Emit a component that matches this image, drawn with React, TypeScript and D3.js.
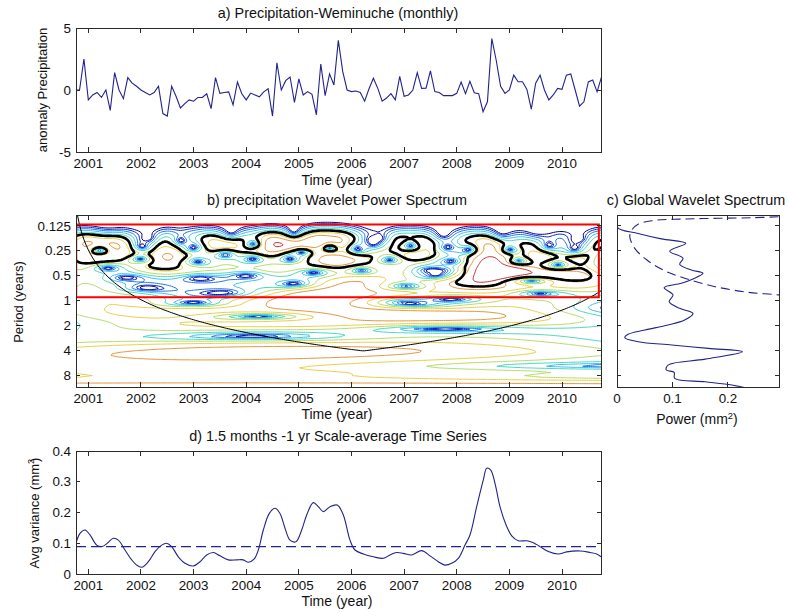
import React, { useMemo } from 'react';
import * as d3 from 'd3';

const W = 788;
const H = 612;
const FONT = '"Liberation Sans", Arial, Helvetica, sans-serif';
const LINE = '#23238c';
const INK = '#111111';
const FRAME = '#2a2a2a';
const FS_TITLE = 14.4;
const FS_XLABEL = 14;
const FS_YLABEL = 13;
const FS_TICK = 13.4;

// ---- data -------------------------------------------------------------
const precipStart = 2000.75; // Oct 2000
const precipStep = 1 / 12; // monthly
const precipAnomaly = [
  0, 0, 2.5, -0.8, -0.4, -0.2, -0.6, 0, -1.65, 1.4, 0, -0.7,
  1.0, 0.55, 0.3, 0, -0.2, -0.4, -0.2, 0.3, -1.9, -2.1, 0.3, -0.5,
  -1.45, -1.1, -0.8, -0.9, -0.6, -0.6, -0.3, -1.5, 1.0, -0.27, -0.2, -0.15,
  -1.2, 0.65, -0.3, -0.8, -0.25, -0.4, -0.55, -0.15, 0.1, -2.1, 2.2, 0,
  0.75, 1.05, -1.0, 0.9, -0.4, -0.13, -0.35, -2.0, 2.1, -0.45, 1.3, 0.4,
  4.0, 1.5, 0, -0.13, -0.08, -0.2, -0.9, 0.1, 0.95, 0.13, -0.9, -0.65,
  -0.3, -0.8, 1.1, -0.5, -0.4, 0, 1.4, 0.13, 0.15, 1.55, -0.13, -0.2,
  -0.45, -0.45, -0.45, -0.27, 0.65, -0.3, 0.7, -0.22, -0.3, -1.75, -0.95, 4.15,
  2.4, 0.3, -0.27, 0, 1.2, 0.67, 0.67, 0.05, -1.55, 0.55, 1.2, 0,
  -0.8, -0.4, 0.13, 0.05, 1.2, 1.3, 0, -1.3, -0.95, 0.65, 0.8, -0.15,
  1.05, -0.3,
];

const timeDomain = [2000.766, 2010.741];
const yearTicks = [2001, 2002, 2003, 2004, 2005, 2006, 2007, 2008, 2009, 2010];
const anomalyTicks = [-5, 0, 5];
const periodTicks = [0.125, 0.25, 0.5, 1, 2, 4, 8];
const periodTickLabels = ['0.125', '0.25', '0.5', '1', '2', '4', '8'];
const periodDomainLog2 = [-3.44, 3.47];
const powerTicks = [0, 0.1, 0.2];
const powerTickLabels = ['0', '0.1', '0.2'];
const powerDomain = [0, 0.292];
const varianceTicks = [0, 0.1, 0.2, 0.3, 0.4];
const varianceTickLabels = ['0', '0.1', '0.2', '0.3', '0.4'];

// global wavelet spectrum (panel c)
const globalPeriods = [
  0.095, 0.131, 0.154, 0.179, 0.203, 0.252, 0.308, 0.364, 0.426, 0.467, 0.547, 0.616,
  0.697, 0.853, 1.028, 1.24, 1.424, 1.717, 1.972, 2.266, 2.549, 2.809, 3.138, 3.434,
  3.784, 4.141, 5.098, 6.021, 6.916, 7.362, 8.694, 9.58, 10.48, 11.31,
];
const globalPower = [
  0, 0.001, 0.038, 0.08, 0.124, 0.095, 0.119, 0.113, 0.134, 0.155, 0.137, 0.116,
  0.085, 0.101, 0.094, 0.113, 0.137, 0.122, 0.092, 0.05, 0.02, 0.014, 0.038, 0.099,
  0.165, 0.226, 0.159, 0.092, 0.089, 0.103, 0.104, 0.159, 0.207, 0.231,
];
const globalSigPeriods = [
  0.0968, 0.0995, 0.101, 0.103, 0.108, 0.119, 0.136, 0.168, 0.233, 0.323, 0.426, 0.536,
  0.678, 0.795, 0.853, 0.95,
];
const globalSigPower = [
  0.291, 0.243, 0.183, 0.122, 0.0625, 0.038, 0.028, 0.023, 0.032, 0.054, 0.083, 0.122,
  0.177, 0.237, 0.291, 0.33,
];

// scale-averaged variance (panel d)
const scaleAvgYears = [
  2000.766, 2000.842, 2000.937, 2001.032, 2001.159, 2001.254, 2001.349, 2001.475, 2001.57, 2001.697,
  2001.824, 2001.919, 2002.014, 2002.14, 2002.267, 2002.394, 2002.489, 2002.584, 2002.71, 2002.837,
  2002.995, 2003.122, 2003.249, 2003.375, 2003.502, 2003.66, 2003.819, 2003.945, 2004.04, 2004.148,
  2004.23, 2004.325, 2004.439, 2004.547, 2004.642, 2004.737, 2004.832, 2004.946, 2005.054, 2005.149,
  2005.275, 2005.37, 2005.465, 2005.592, 2005.731, 2005.845, 2005.972, 2006.067, 2006.225, 2006.415,
  2006.605, 2006.732, 2006.859, 2006.985, 2007.144, 2007.334, 2007.492, 2007.65, 2007.777, 2007.905,
  2008.03, 2008.157, 2008.252, 2008.379, 2008.505, 2008.57, 2008.646, 2008.727, 2008.822, 2008.936,
  2009.045, 2009.17, 2009.33, 2009.455, 2009.582, 2009.74, 2009.93, 2010.09, 2010.342, 2010.532,
  2010.659, 2010.741,
];
const scaleAvgValues = [
  0.1, 0.132, 0.143, 0.127, 0.094, 0.089, 0.098, 0.116, 0.11, 0.078,
  0.046, 0.029, 0.022, 0.04, 0.073, 0.094, 0.1, 0.089, 0.056, 0.035,
  0.026, 0.04, 0.062, 0.07, 0.059, 0.046, 0.046, 0.046, 0.038, 0.048,
  0.078, 0.143, 0.197, 0.214, 0.197, 0.149, 0.11, 0.105, 0.143, 0.192,
  0.232, 0.219, 0.203, 0.219, 0.224, 0.192, 0.11, 0.078, 0.065, 0.056,
  0.051, 0.062, 0.07, 0.067, 0.062, 0.076, 0.059, 0.04, 0.029, 0.035,
  0.051, 0.094, 0.127, 0.219, 0.306, 0.344, 0.338, 0.295, 0.219, 0.16,
  0.124, 0.108, 0.108, 0.102, 0.089, 0.073, 0.065, 0.072, 0.075, 0.07,
  0.065, 0.056,
];
const scaleAvgSignif = 0.089;

const bandPeriods = [0.12, 0.91];
const bandYears = [2000.77, 2010.7];
const coiRange = [2000.75, 2011.7];
const contourLevels = [0.0625, 0.125, 0.25, 0.5, 1, 2, 4, 8, 16];
const contourColors = [
  '#00008f', '#0a2fc4', '#1f78e6', '#3cc0f0', '#48d8c0',
  '#b4dc68', '#e8cf48', '#e4943c', '#c8343a',
];
const powerGain = 4; // contoured power expressed relative to the series' reference variance
const redNoiseLag1 = 0.72; // lag-1 autocorrelation used for the red-noise background

// ---- layout -------------------------------------------------------------
const PA = { x0: 76, x1: 601, y0: 28, y1: 152 };
const PB = { x0: 76, x1: 601, y0: 215, y1: 387 };
const PC = { x0: 617, x1: 779, y0: 215, y1: 387 };
const PD = { x0: 76, x1: 601, y0: 451, y1: 574 };

const xTime = (p: any) => d3.scaleLinear().domain(timeDomain).range([p.x0, p.x1]);
const xA = xTime(PA);
const xB = xTime(PB);
const xD = xTime(PD);
const yA = d3.scaleLinear().domain([-5, 5]).range([PA.y1, PA.y0]);
const yB = d3.scaleLinear().domain(periodDomainLog2).range([PB.y0, PB.y1]);
const xC = d3.scaleLinear().domain(powerDomain).range([PC.x0, PC.x1]);
const yD = d3.scaleLinear().domain([0, 0.4]).range([PD.y1, PD.y0]);

// ---- Morlet wavelet power of the panel-a series (FFT method, Torrence & Compo) ----
function buildWavelet() {
  const n = precipAnomaly.length;
  const mean = d3.mean(precipAnomaly) as number;
  const variance = d3.mean(precipAnomaly, (v) => (v - mean) * (v - mean)) as number;
  const sd = Math.sqrt(variance);
  const x = precipAnomaly.map((v) => (v - mean) / sd);
  const alpha = redNoiseLag1;
  const dt = precipStep;
  const N = 256;
  const sub = 2;
  const M = N * sub;
  const cosT = new Float64Array(M);
  const sinT = new Float64Array(M);
  for (let i = 0; i < M; i++) {
    cosT[i] = Math.cos((2 * Math.PI * i) / M);
    sinT[i] = Math.sin((2 * Math.PI * i) / M);
  }
  const half = N / 2;
  const Xr = new Float64Array(half + 1);
  const Xi = new Float64Array(half + 1);
  for (let k = 1; k <= half; k++) {
    let re = 0;
    let im = 0;
    for (let t = 0; t < n; t++) {
      const idx = (k * t * sub) % M;
      re += x[t] * cosT[idx];
      im -= x[t] * sinT[idx];
    }
    Xr[k] = re;
    Xi[k] = im;
  }
  const nT = (n - 1) * sub + 1;
  const lpMin = -3.8;
  const lpMax = 3.8;
  const dj = 1 / 16;
  const nS = Math.round((lpMax - lpMin) / dj) + 1;
  const logPow = new Array(nT * nS);
  const sig = new Array(nT * nS);
  const fourier = (4 * Math.PI) / (6 + Math.sqrt(2 + 36));
  const cr = new Float64Array(half + 1);
  const ci = new Float64Array(half + 1);
  for (let j = 0; j < nS; j++) {
    const lp = lpMin + j * dj;
    const period = Math.pow(2, lp);
    const s = period / fourier;
    const norm = Math.sqrt((2 * Math.PI * s) / dt) * Math.pow(Math.PI, -0.25);
    let kLo = half + 1;
    let kHi = 0;
    for (let k = 1; k <= half; k++) {
      const w = (2 * Math.PI * k) / (N * dt);
      const d = norm * Math.exp(-((s * w - 6) * (s * w - 6)) / 2);
      cr[k] = Xr[k] * d;
      ci[k] = Xi[k] * d;
      if (d > 1e-7) {
        if (k < kLo) kLo = k;
        kHi = k;
      }
    }
    const pk = (1 - alpha * alpha) / (1 + alpha * alpha - 2 * alpha * Math.cos((2 * Math.PI * dt) / period));
    const sigLevel = pk * 2.9957;
    for (let m = 0; m < nT; m++) {
      let re = 0;
      let im = 0;
      for (let k = kLo; k <= kHi; k++) {
        const idx = (k * m) % M;
        const c = cosT[idx];
        const sn = sinT[idx];
        re += cr[k] * c - ci[k] * sn;
        im += cr[k] * sn + ci[k] * c;
      }
      const raw = (re * re + im * im) / (N * N);
      logPow[j * nT + m] = Math.log2(Math.max(raw * powerGain, 1e-10));
      sig[j * nT + m] = raw / sigLevel;
    }
  }
  const gridT = (g: number) => precipStart + ((g - 0.5) * dt) / sub;
  const gridLp = (g: number) => lpMin + (g - 0.5) * dj;
  const proj = d3.geoTransform({
    point(px: number, py: number) {
      (this as any).stream.point(xB(gridT(px)), yB(gridLp(py)));
    },
  });
  const path = d3.geoPath(proj);
  const levelsLog = contourLevels.map((v) => Math.log2(v));
  const contours = d3.contours().size([nT, nS]).thresholds(levelsLog)(logPow);
  const contourPaths = contours.map((c, i) => ({ d: path(c as any) || '', color: contourColors[i] }));
  const sigC = d3.contours().size([nT, nS]).thresholds([1])(sig);
  const sigPath = path(sigC[0] as any) || '';
  return { contourPaths, sigPath };
}

function buildCoi() {
  const pts: [number, number][] = [];
  const dt = precipStep;
  const [t0, t1] = coiRange;
  const coif = (4 * Math.PI) / (6 + Math.sqrt(38)) / Math.SQRT2;
  for (let t = t0; t <= t1 + 1e-9; t += dt / 2) {
    const c = coif * Math.max(1e-5, Math.min(t - t0 + dt, t1 - t + dt));
    pts.push([xB(t), yB(Math.log2(c))]);
  }
  return d3.line()(pts) || '';
}

// ---- helpers ----------------------------------------------------------------
const txt = { fontFamily: FONT, fill: INK };

function Frame({ p }: any) {
  return (
    <rect x={p.x0} y={p.y0} width={p.x1 - p.x0} height={p.y1 - p.y0} fill="none" stroke={FRAME} strokeWidth={1} shapeRendering="crispEdges" />
  );
}

function XTicks({ p, scale, ticks, labels, labelY, len = 5 }: any) {
  return (
    <g>
      {ticks.map((t: number, i: number) => {
        const x = scale(t);
        return (
          <g key={i}>
            <line x1={x} x2={x} y1={p.y1} y2={p.y1 - len} stroke={FRAME} shapeRendering="crispEdges" />
            <line x1={x} x2={x} y1={p.y0} y2={p.y0 + len} stroke={FRAME} shapeRendering="crispEdges" />
            <text x={x} y={labelY} textAnchor="middle" fontSize={FS_TICK} style={txt as any}>
              {labels ? labels[i] : String(t)}
            </text>
          </g>
        );
      })}
    </g>
  );
}

function YTicks({ p, scale, ticks, labels, len = 4, showLabels = true }: any) {
  return (
    <g>
      {ticks.map((t: number, i: number) => {
        const y = scale(t);
        return (
          <g key={i}>
            <line x1={p.x0} x2={p.x0 + len} y1={y} y2={y} stroke={FRAME} shapeRendering="crispEdges" />
            <line x1={p.x1} x2={p.x1 - len} y1={y} y2={y} stroke={FRAME} shapeRendering="crispEdges" />
            {showLabels && (
              <text x={p.x0 - 5} y={y + 4.6} textAnchor="end" fontSize={FS_TICK} style={txt as any}>
                {labels ? labels[i] : String(t)}
              </text>
            )}
          </g>
        );
      })}
    </g>
  );
}

function Clip({ id, p }: any) {
  return (
    <clipPath id={id}>
      <rect x={p.x0} y={p.y0} width={p.x1 - p.x0} height={p.y1 - p.y0} />
    </clipPath>
  );
}

export default function App() {
  const wave = useMemo(buildWavelet, []);
  const coiPath = useMemo(buildCoi, []);

  const precipPath =
    d3
      .line<number>()
      .x((_, i) => xA(precipStart + i * precipStep))
      .y((v) => yA(v))(precipAnomaly) || '';

  const globalPath =
    d3
      .line<number>()
      .x((v) => xC(v))
      .y((_, i) => yB(Math.log2(globalPeriods[i])))
      .curve(d3.curveCatmullRom.alpha(0.5))(globalPower) || '';

  const globalSigPath =
    d3
      .line<number>()
      .x((v) => xC(v))
      .y((_, i) => yB(Math.log2(globalSigPeriods[i])))
      .curve(d3.curveCatmullRom.alpha(0.5))(globalSigPower) || '';

  const scaleAvgPath =
    d3
      .line<number>()
      .x((_, i) => xD(scaleAvgYears[i]))
      .y((v) => yD(v))
      .curve(d3.curveCatmullRom.alpha(0.5))(scaleAvgValues) || '';

  const periodTickLog = periodTicks.map((p) => Math.log2(p));

  return (
    <div style={{ position: 'absolute', left: 0, top: 0, width: W, height: H, background: '#fff' }}>
      <svg width={W} height={H} viewBox={`0 0 ${W} ${H}`} style={{ display: 'block' }}>
        <defs>
          <Clip id="clipA" p={PA} />
          <Clip id="clipB" p={PB} />
          <Clip id="clipC" p={PC} />
          <Clip id="clipD" p={PD} />
        </defs>
        <rect x={0} y={0} width={W} height={H} fill="#fff" />

        {/* ---- panel a ---- */}
        <text x={338} y={18} textAnchor="middle" fontSize={FS_TITLE} style={txt as any}>
          a) Precipitation-Weminuche (monthly)
        </text>
        <g clipPath="url(#clipA)">
          <path d={precipPath} fill="none" stroke={LINE} strokeWidth={1.1} />
        </g>
        <Frame p={PA} />
        <XTicks p={PA} scale={xA} ticks={yearTicks} labelY={168} />
        <YTicks p={PA} scale={yA} ticks={anomalyTicks} />
        <text x={337} y={185} textAnchor="middle" fontSize={FS_XLABEL} style={txt as any}>
          Time (year)
        </text>
        <text transform="translate(47,90) rotate(-90)" textAnchor="middle" fontSize={FS_YLABEL} style={txt as any}>
          anomaly Precipitation
        </text>

        {/* ---- panel b ---- */}
        <text x={337} y={205} textAnchor="middle" fontSize={FS_TITLE} style={txt as any}>
          b) precipitation Wavelet Power Spectrum
        </text>
        <g clipPath="url(#clipB)">
          {wave.contourPaths.map((c, i) => (
            <path key={i} d={c.d} fill="none" stroke={c.color} strokeWidth={1} strokeLinejoin="round" />
          ))}
          <path d={wave.sigPath} fill="none" stroke="#000" strokeWidth={2.6} strokeLinejoin="round" />
          <path d={coiPath} fill="none" stroke="#000" strokeWidth={1} />
          <rect
            x={xB(bandYears[0])}
            y={yB(Math.log2(bandPeriods[0]))}
            width={xB(bandYears[1]) - xB(bandYears[0])}
            height={yB(Math.log2(bandPeriods[1])) - yB(Math.log2(bandPeriods[0]))}
            fill="none"
            stroke="#ff0000"
            strokeWidth={2}
          />
        </g>
        <Frame p={PB} />
        <XTicks p={PB} scale={xB} ticks={yearTicks} labelY={403} />
        <YTicks p={PB} scale={yB} ticks={periodTickLog} labels={periodTickLabels} />
        <text x={337} y={419} textAnchor="middle" fontSize={FS_XLABEL} style={txt as any}>
          Time (year)
        </text>
        <text transform="translate(22.5,302) rotate(-90)" textAnchor="middle" fontSize={FS_YLABEL} style={txt as any}>
          Period (years)
        </text>

        {/* ---- panel c ---- */}
        <text x={696} y={205} textAnchor="middle" fontSize={FS_TITLE} style={txt as any}>
          c) Global Wavelet Spectrum
        </text>
        <g clipPath="url(#clipC)">
          <path d={globalPath} fill="none" stroke={LINE} strokeWidth={1.1} />
          <path d={globalSigPath} fill="none" stroke={LINE} strokeWidth={1.1} strokeDasharray="9,5" />
        </g>
        <Frame p={PC} />
        <XTicks p={PC} scale={xC} ticks={powerTicks} labels={powerTickLabels} labelY={403} />
        <YTicks p={PC} scale={yB} ticks={periodTickLog} showLabels={false} />
        <text x={697} y={424} textAnchor="middle" fontSize={FS_XLABEL} style={txt as any}>
          Power (mm
          <tspan fontSize={9.5} dy={-5.5}>2</tspan>
          <tspan dy={5.5}>)</tspan>
        </text>

        {/* ---- panel d ---- */}
        <text x={338} y={441} textAnchor="middle" fontSize={FS_TITLE} style={txt as any}>
          d) 1.5 months -1 yr Scale-average Time Series
        </text>
        <g clipPath="url(#clipD)">
          <path d={scaleAvgPath} fill="none" stroke={LINE} strokeWidth={1.1} />
          <line
            x1={PD.x0}
            x2={PD.x1}
            y1={yD(scaleAvgSignif)}
            y2={yD(scaleAvgSignif)}
            stroke={LINE}
            strokeWidth={1.1}
            strokeDasharray="10,5"
          />
        </g>
        <Frame p={PD} />
        <XTicks p={PD} scale={xD} ticks={yearTicks} labelY={590} />
        <YTicks p={PD} scale={yD} ticks={varianceTicks} labels={varianceTickLabels} />
        <text x={337} y={606} textAnchor="middle" fontSize={FS_XLABEL} style={txt as any}>
          Time (year)
        </text>
        <text transform="translate(39,513) rotate(-90)" textAnchor="middle" fontSize={FS_YLABEL} style={txt as any}>
          Avg variance (mm
          <tspan fontSize={9} dy={-5}>2</tspan>
          <tspan dy={5} dx={-3}>)</tspan>
        </text>
      </svg>
    </div>
  );
}
